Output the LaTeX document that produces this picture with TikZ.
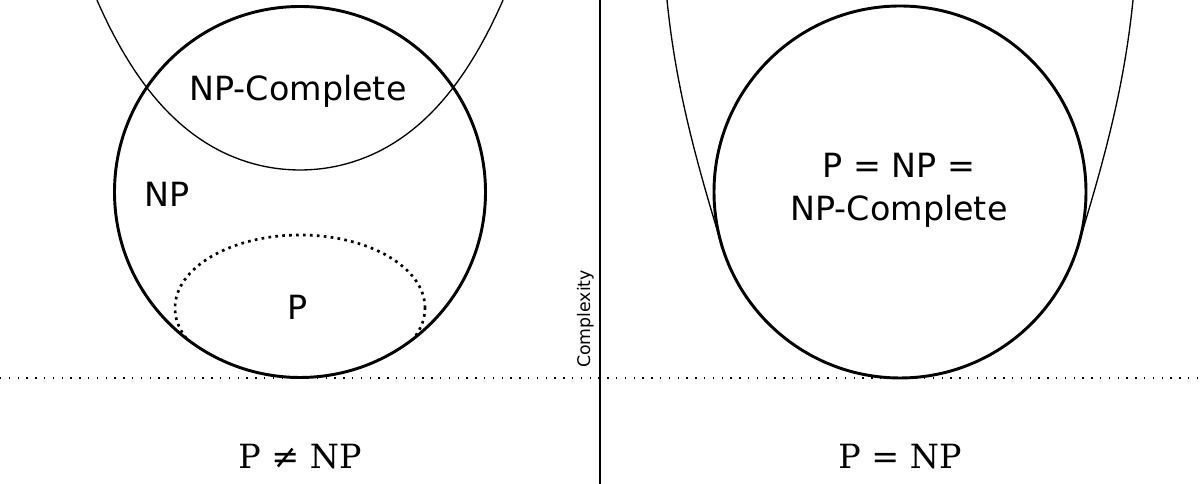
\documentclass[tikz,border=0pt]{standalone}
\usepackage{fontspec}
\setmainfont{DejaVu Sans}
\newfontfamily\eqfont{DejaVu Serif}
\usetikzlibrary{positioning}
\tikzset{
  setline/.style   = {line width=2.2pt},
  hardline/.style  = {line width=1pt},
  pdots/.style     = {line width=2pt, dash pattern=on 2pt off 3.2pt},
  floorline/.style = {line width=1pt, dash pattern=on 1pt off 5.6pt},
  classtext/.style = {font=\fontsize{25}{32}\selectfont, align=center, inner sep=0pt},
  eqtext/.style    = {font=\eqfont\fontsize{25}{30}\selectfont, inner sep=0pt},
}

\begin{document}
\begin{tikzpicture}[x=0.75pt, y=0.75pt]
  \useasboundingbox (0,0) rectangle (1200,484);

  % P != NP
  \draw[hardline] plot[domain=-203:203, samples=120]
    ({300+\x}, {314+49.35*((exp(0.0107*\x)+exp(-0.0107*\x))/2-1)});
  \begin{scope}
    \clip (300,292) circle[radius=185.5];
    \draw[pdots] (300,176) ellipse[x radius=125, y radius=73];
  \end{scope}
  \draw[setline] (300,292) circle[radius=185.5];
  \node[classtext] (npc) at (298,393) {NP-Complete};
  \node[classtext] (np) at (167,290) {NP};
  \node[classtext] (p) at (298,177) {P};
  \node[eqtext] (neq) at (300,27) {P ≠ NP};

  % axis
  \draw[hardline] (600,0) -- (600,484);
  \draw[floorline] (0,106) -- (1200,106);
  \node[rotate=90, font=\fontsize{13}{15}\selectfont, inner sep=0pt] (cx) at (586,165) {Complexity};

  % P = NP
  \draw[hardline] (667,484) .. controls (676,394) and (697,320.5) .. (722,237.9)
    arc[start angle=196.9, end angle=343.1, radius=186]
    .. controls (1103,320.5) and (1124,394) .. (1133,484);
  \draw[setline] (900,292) circle[radius=186];
  \node[classtext] (all) at (899,294) {P = NP =\\NP-Complete};
  \node[eqtext] (eq) at (900,27) {P = NP};
\end{tikzpicture}
\end{document}
